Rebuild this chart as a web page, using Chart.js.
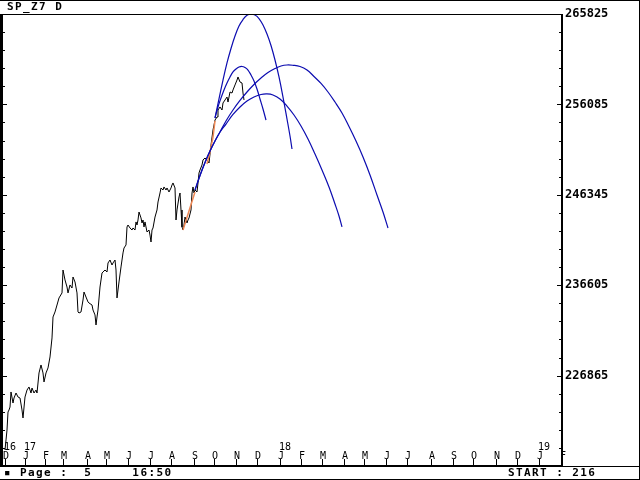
<!DOCTYPE html>
<html>
<head>
<meta charset="utf-8">
<script src="https://cdn.jsdelivr.net/npm/chart.js@4"></script>
<style>
  html, body { margin: 0; padding: 0; background: #fff; }
  canvas { display: block; }
</style>
</head>
<body>
<canvas id="grafico" width="640" height="480"></canvas>
<script>
// Daily bars (x = bar number, y = price * 100)
const priceDays = [2,3,4,5,6,7,8,10,11,13,15,17,19,20,22,24,26,28,29,31,33,34,36,38,40,41,43,45,47,49,50,52,54,56,59,60,62,64,65,67,69,70,72,74,75,76,78,80,81,83,85,86,89,90,92,93,94,95,97,99,100,102,104,105,107,109,110,112,113,114,116,118,120,121,123,124,125,127,129,130,132,133,134,135,136,138,139,140,141,142,143,144,146,147,148,149,150,152,154,155,157,158,160,161,163,164,166,168,169,170,172,173,174,176,177,178,179,180,181,182,184,185,186,188,189,190,191,192,194,195,196,197,199,200,202,204,206,208,210,212,214,215,217,219,220,222,224,225,227,229,230,232,234,235,237,239,240,241];
const priceValues = [218850,219930,221000,222940,223160,223480,225100,223910,224450,224990,224560,224450,223160,222300,224560,225310,225640,224990,225530,224990,225310,224990,227150,228010,227150,226180,227150,227690,228870,230920,233180,233720,234470,235230,235770,238240,237170,236410,235770,236630,236300,237490,236950,235770,233720,233610,233720,235010,235870,235330,234800,234690,234470,233930,233400,232320,233180,233930,236410,237920,238030,238240,238030,239000,239320,238780,239000,239320,238240,235230,236950,238570,240080,240610,240940,242880,243090,242770,242550,242770,242550,243420,243090,243630,244490,243850,243310,243630,242880,243420,242880,242340,242550,242010,241260,242550,242770,243950,244710,245570,246540,247080,246860,247190,246860,247080,246650,247080,247400,247620,247080,243630,244710,246110,246540,244710,242880,242550,243090,243950,243310,243630,243850,244710,246540,247190,246540,246860,246650,247620,248700,249020,249560,250100,250310,250100,249770,251710,253330,254400,254730,255480,255810,255480,256240,256560,256880,256340,257420,257310,257640,258180,258710,259040,258500,258390,257310,256560];

// Orange highlighted legs
const orange1Days = [180,186,192];
const orange1Values = [242550,244600,246650];
const orange2Days = [204,207,210,212];
const orange2Values = [249660,250960,252570,254300];

// Blue projection arcs
const arcTallDays = [212,216,220,224,228,232,236,240,244,248,252,256,260,264,268,272,276,280,284,287,289];
const arcTallValues = [254620,256670,258710,260550,262110,263450,264530,265230,265690,265800,265720,265340,264640,263670,262430,260870,259040,256880,254510,252680,251280];
const arcSmallDays = [212,215,218,221,224,227,230,233,236,239,242,245,248,251,254,257,260,263];
const arcSmallValues = [254620,255810,256770,257640,258390,259040,259580,259900,260110,260170,260060,259790,259250,258610,257740,256670,255590,254400];
const arcWideDays = [192,197,202,207,212,217,223,230,237,244,251,258,265,272,278,284,290,297,304,311,318,325,332,339,346,353,360,367,374,380,385];
const arcWideValues = [246860,248430,249830,251060,252140,253110,254300,255480,256510,257420,258230,258930,259520,259950,260220,260330,260300,260170,259790,259090,258340,257420,256340,255160,253700,252140,250420,248480,246320,244490,242770];
const arcLowDays = [192,197,202,207,212,217,223,230,237,244,251,258,264,270,277,284,291,298,305,312,319,326,332,336,339];
const arcLowValues = [246860,248430,249830,251060,252140,253110,253970,255000,255810,256450,256880,257150,257210,257100,256670,255910,254940,253760,252360,250740,249020,247190,245350,244060,242880];

// Month ticks (bar number of first bar of each month)
const monthDays = [2,22,42,60,84,103,125,147,168,191,211,233,254,277,298,319,341,361,383,404,428,450,470,493,514,536,559];
const monthLetters = ['D','J','F','M','A','M','J','J','A','S','O','N','D','J','F','M','A','M','J','J','A','S','O','N','D','J','F'];
const yearLabels = {0: '16', 1: '17', 13: '18', 25: '19'};

const yMin = 217125;
const yMax = 265825;

function pontos(dias, valores) {
  return dias.map((d, i) => ({ x: d, y: valores[i] }));
}

function serie(dias, valores, cor, largura, ordem, tensao) {
  return {
    data: pontos(dias, valores),
    borderColor: cor,
    borderWidth: largura,
    pointRadius: 0,
    fill: false,
    order: ordem,
    tension: tensao
  };
}

const monoBold = 'bold 11px "DejaVu Sans Mono"';

// Frame, ticks, month labels and status line
const moldura = {
  id: 'moldura',
  afterDraw(chart) {
    const { ctx, chartArea: ca, scales } = chart;
    const xs = scales.x;
    const ys = scales.y;
    ctx.save();
    ctx.fillStyle = '#000';

    ctx.fillRect(0, 0, chart.width, 1);
    ctx.fillRect(0, chart.height - 1, chart.width, 1);
    ctx.fillRect(chart.width - 1, 0, 1, chart.height);
    ctx.fillRect(0, ca.top, ca.right + 2, 1);
    ctx.fillRect(0, ca.top, 3, ca.bottom - ca.top);
    ctx.fillRect(ca.right, ca.top, 2, ca.bottom - ca.top);
    ctx.fillRect(0, ca.bottom - 1, ca.right + 2, 2);
    ctx.fillRect(0, ca.bottom, chart.width, 1);

    ys.ticks.forEach((t, i) => {
      const py = Math.round(ys.getPixelForValue(t.value));
      const len = i % 5 === 0 ? 4 : 2;
      ctx.fillRect(3, py, len, 1);
      ctx.fillRect(ca.right - len, py, len, 1);
    });

    ctx.font = '10px "DejaVu Sans Mono"';
    ctx.textBaseline = 'alphabetic';
    ctx.textAlign = 'left';
    monthDays.forEach((d, i) => {
      const px = Math.round(xs.getPixelForValue(d));
      ctx.fillRect(px, ca.bottom - 7, 1, 6);
      ctx.fillText(monthLetters[i], px - 2, ca.bottom - 7);
      if (yearLabels[i]) ctx.fillText(yearLabels[i], px - 1, ca.bottom - 16);
    });

    ctx.font = monoBold;
    ctx.letterSpacing = '1.4px';
    ctx.fillText('SP_Z7 D', 7, 10);
    ctx.fillText('\u25AA Page :  5     16:50', 4, 476);
    ctx.fillText('START : 216', 508, 476);
    ctx.restore();
  }
};

new Chart(document.getElementById('grafico'), {
  type: 'line',
  data: {
    datasets: [
      serie(arcTallDays, arcTallValues, '#0c0cb0', 1.2, 1, 0.4),
      serie(arcSmallDays, arcSmallValues, '#0c0cb0', 1.2, 1, 0.4),
      serie(arcWideDays, arcWideValues, '#0c0cb0', 1.2, 1, 0.4),
      serie(arcLowDays, arcLowValues, '#0c0cb0', 1.2, 1, 0.4),
      serie(orange1Days, orange1Values, '#ee8855', 1.5, 2, 0),
      serie(orange2Days, orange2Values, '#ee8855', 1.5, 2, 0),
      serie(priceDays, priceValues, '#000000', 1, 3, 0)
    ]
  },
  options: {
    responsive: false,
    animation: false,
    layout: { padding: { left: 3, top: 14, right: 0, bottom: 14 } },
    plugins: {
      legend: { display: false },
      tooltip: { enabled: false }
    },
    scales: {
      x: {
        type: 'linear',
        display: false,
        min: 0,
        max: 558
      },
      y: {
        position: 'right',
        min: yMin,
        max: yMax,
        grid: { display: false, drawTicks: false, tickLength: 0 },
        border: { display: false },
        afterFit: (scale) => { scale.width = 79; },
        ticks: {
          stepSize: 1948,
          autoSkip: false,
          padding: 4,
          color: '#000',
          font: { family: 'DejaVu Sans Mono', size: 12, weight: 'bold' },
          callback: (value, index) => (index % 5 === 0 && index > 0) ? String(Math.round(value)) : ''
        }
      }
    }
  },
  plugins: [moldura]
});
</script>
</body>
</html>
